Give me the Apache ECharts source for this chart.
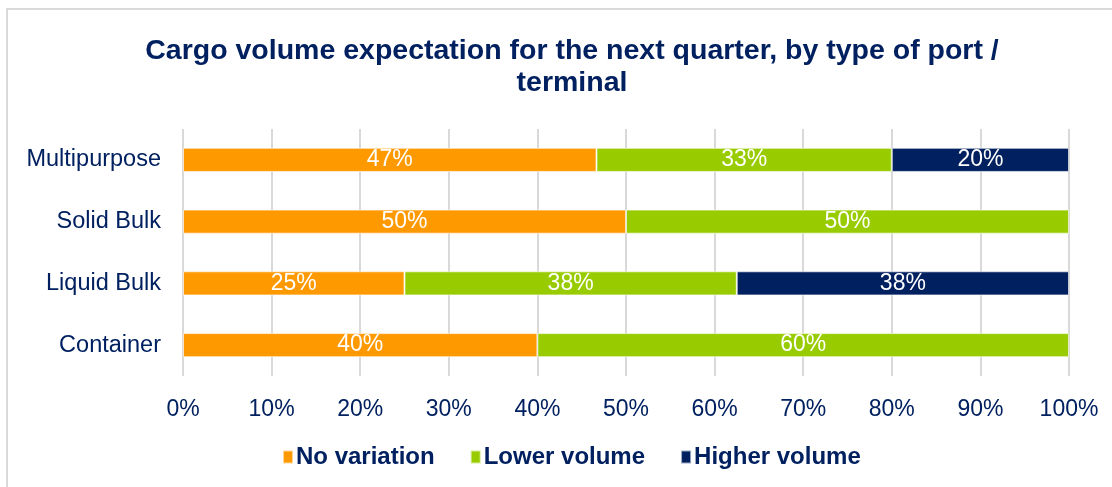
<!DOCTYPE html>
<html>
<head>
<meta charset="utf-8">
<script src="https://cdn.jsdelivr.net/npm/echarts@6/dist/echarts.min.js"></script>
<style>
  html, body { margin: 0; padding: 0; background: #fff; }
  #chart { width: 1112px; height: 487px; }
</style>
</head>
<body>
<div id="chart"></div>
<script>
// Port / terminal types, bottom to top as drawn on the category axis
const categories = ['Container', 'Liquid Bulk', 'Solid Bulk', 'Multipurpose'];
// Share of respondents (%) per expectation
const noVariation = [40, 25, 50, 46.67];
const lowerVolume = [60, 37.5, 50, 33.33];
const higherVolume = [0, 37.5, 0, 20];
const seriesNames = ['No variation', 'Lower volume', 'Higher volume'];
const xTicks = [0, 10, 20, 30, 40, 50, 60, 70, 80, 90, 100];

const navy = '#002060';
const colors = ['#FF9900', '#99CC00', '#002060'];
const font = '"Liberation Sans", Arial, sans-serif';

const chart = echarts.init(document.getElementById('chart'));

function barSeries(name, values, color) {
  return {
    name: name,
    type: 'bar',
    stack: 'total',
    barWidth: '39%',
    data: values.map(v => (v > 0 ? v : null)),
    itemStyle: { color: color, borderColor: 'rgba(255,255,255,0.6)', borderWidth: 1 },
    label: {
      show: true,
      position: 'inside',
      color: '#ffffff',
      fontFamily: font,
      fontSize: 23,
      formatter: p => Math.round(p.value) + '%'
    },
    emphasis: { disabled: true }
  };
}

chart.setOption({
  animation: false,
  backgroundColor: '#ffffff',
  graphic: [{
    type: 'rect',
    shape: { x: 7, y: 9, width: 1200, height: 600 },
    style: { fill: 'none', stroke: '#d9d9d9', lineWidth: 2 },
    silent: true
  }],
  title: {
    text: 'Cargo volume expectation for the next quarter, by type of port /\nterminal',
    left: 567,
    textAlign: 'center',
    top: 30,
    textStyle: {
      color: navy,
      fontFamily: font,
      fontWeight: 'bold',
      fontSize: 28.5,
      lineHeight: 32
    }
  },
  legend: {
    bottom: 13,
    left: 277,
    itemWidth: 10,
    itemHeight: 13,
    itemGap: 35,
    icon: 'rect',
    textStyle: { color: navy, fontFamily: font, fontWeight: 'bold', fontSize: 24, padding: [0, 0, 0, -2] },
    data: seriesNames
  },
  grid: { left: 183, right: 43, top: 129, bottom: 111, containLabel: false },
  xAxis: {
    type: 'value',
    min: 0,
    max: 100,
    interval: 10,
    axisLine: { show: false },
    axisTick: { show: false },
    splitLine: { show: true, lineStyle: { color: '#d9d9d9', width: 2 } },
    axisLabel: {
      color: navy,
      fontFamily: font,
      fontSize: 23,
      margin: 22,
      formatter: v => (xTicks.includes(v) ? v + '%' : '')
    }
  },
  yAxis: {
    type: 'category',
    data: categories,
    axisLine: { show: false },
    axisTick: { show: false },
    axisLabel: { color: navy, fontFamily: font, fontSize: 23.5, margin: 22 }
  },
  series: [
    barSeries(seriesNames[0], noVariation, colors[0]),
    barSeries(seriesNames[1], lowerVolume, colors[1]),
    barSeries(seriesNames[2], higherVolume, colors[2])
  ]
});
</script>
</body>
</html>
